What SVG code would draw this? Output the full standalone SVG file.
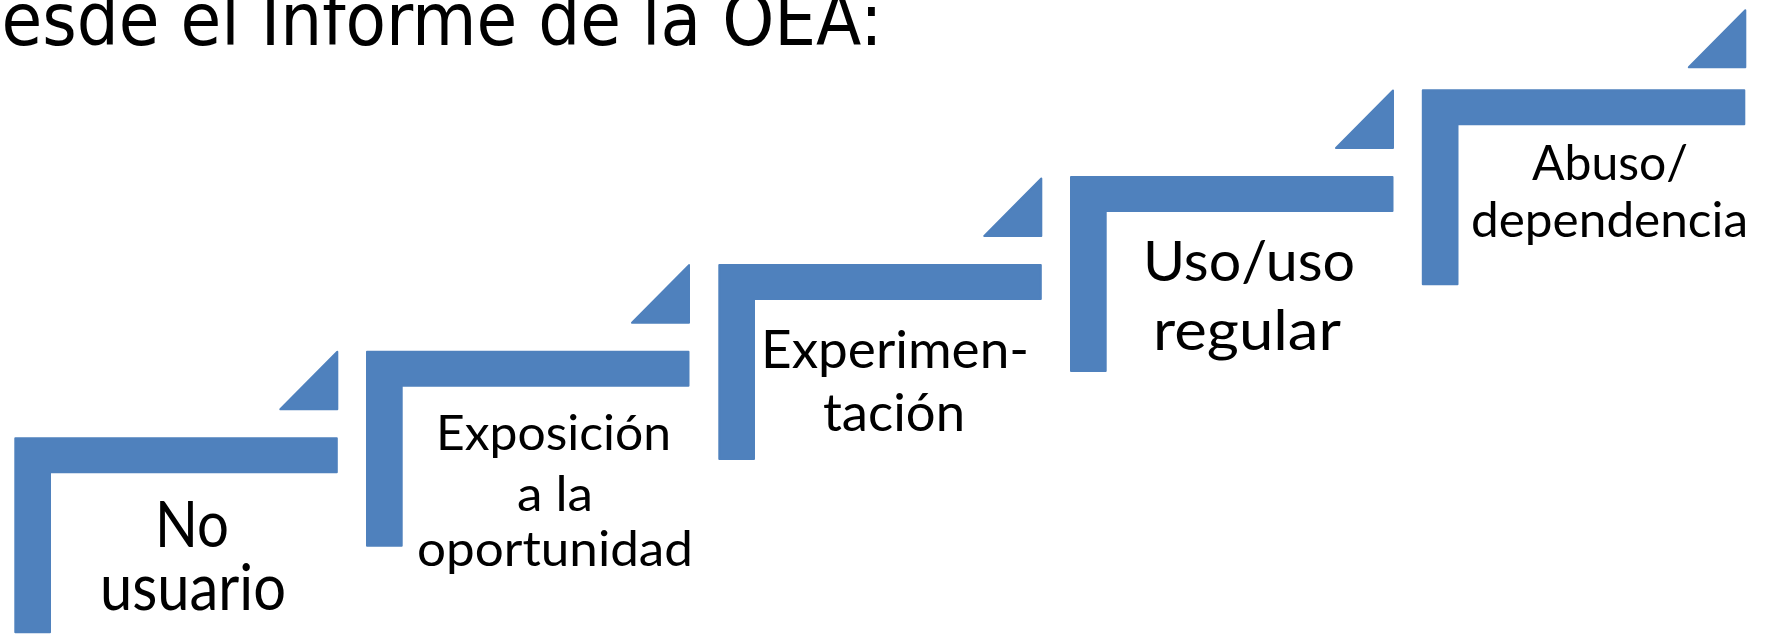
<svg xmlns="http://www.w3.org/2000/svg" xmlns:xlink="http://www.w3.org/1999/xlink" width="1777" height="635" viewBox="0 0 1777 635">
  <style>
    .shape { fill: #4F81BD; stroke: #4F81BD; stroke-width: 2; stroke-linejoin: round; }
    .lbl { font-family: Lato, "Open Sans", "Liberation Sans", sans-serif; fill: #000; }
    .title { font-family: "DejaVu Sans", Verdana, sans-serif; font-size: 73px; fill: #000; }
  </style>
  <defs>
    <path id="stair" d="M1,1 H322.5 V35 H35.7 V195 H1 Z"/>
    <path id="tri" d="M266,-28 H323 V-85.6 Z"/>
  </defs>
  <rect width="1777" height="635" fill="#fff"/>
  <text class="title" x="1.5" y="45" textLength="881" lengthAdjust="spacingAndGlyphs">esde el Informe de la OEA:</text>

  <g id="step1">
    <g transform="translate(14.3,437.3)">
      <use xlink:href="#stair" class="shape"/>
      <use xlink:href="#tri" class="shape"/>
    </g>
    <text class="lbl" font-size="63" x="155" y="547" textLength="74" lengthAdjust="spacingAndGlyphs">No</text>
    <text class="lbl" font-size="63" x="100" y="610" textLength="186" lengthAdjust="spacingAndGlyphs">usuario</text>
  </g>

  <g id="step2">
    <g transform="translate(366,350.7)">
      <use xlink:href="#stair" class="shape"/>
      <use xlink:href="#tri" class="shape"/>
    </g>
    <text class="lbl" font-size="49" x="436" y="450" textLength="235" lengthAdjust="spacingAndGlyphs">Exposición</text>
    <text class="lbl" font-size="49" x="517" y="511" textLength="76" lengthAdjust="spacingAndGlyphs">a la</text>
    <text class="lbl" font-size="49" x="417" y="566" textLength="276" lengthAdjust="spacingAndGlyphs">oportunidad</text>
  </g>

  <g id="step3">
    <g transform="translate(718.3,264)">
      <use xlink:href="#stair" class="shape"/>
      <use xlink:href="#tri" class="shape"/>
    </g>
    <text class="lbl" font-size="53" x="761" y="368" textLength="268" lengthAdjust="spacingAndGlyphs">Experimen-</text>
    <text class="lbl" font-size="53" x="823" y="431" textLength="142" lengthAdjust="spacingAndGlyphs">tación</text>
  </g>

  <g id="step4">
    <g transform="translate(1070,176)">
      <use xlink:href="#stair" class="shape"/>
      <use xlink:href="#tri" class="shape"/>
    </g>
    <text class="lbl" font-size="56" x="1143" y="281" textLength="212" lengthAdjust="spacingAndGlyphs">Uso/uso</text>
    <text class="lbl" font-size="56" x="1153" y="350" textLength="188" lengthAdjust="spacingAndGlyphs">regular</text>
  </g>

  <g id="step5">
    <g transform="translate(1421.8,89.3)">
      <use xlink:href="#stair" class="shape"/>
      <path class="shape" d="M267,-22 H323.5 V-79 Z"/>
    </g>
    <text class="lbl" font-size="49" x="1532" y="180" textLength="156" lengthAdjust="spacingAndGlyphs">Abuso/</text>
    <text class="lbl" font-size="49" x="1471" y="237" textLength="277" lengthAdjust="spacingAndGlyphs">dependencia</text>
  </g>

  <g id="connectors"></g>
</svg>
